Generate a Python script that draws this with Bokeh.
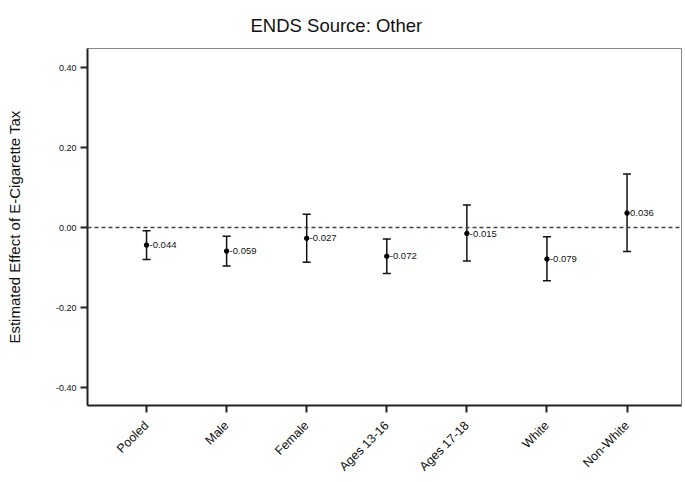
import math
from bokeh.plotting import figure
from bokeh.models import (ColumnDataSource, Whisker, TeeHead, LabelSet, Span,
                          FixedTicker, NumeralTickFormatter, Range1d)
from bokeh.core.properties import value
from bokeh.embed import file_html
from bokeh.resources import INLINE

categories = ["Pooled", "Male", "Female", "Ages 13-16", "Ages 17-18", "White", "Non-White"]
estimates = [-0.044, -0.059, -0.027, -0.072, -0.015, -0.079, 0.036]
lower = [-0.080, -0.096, -0.087, -0.115, -0.084, -0.133, -0.060]
upper = [-0.008, -0.022, 0.033, -0.029, 0.056, -0.023, 0.134]
y_ticks = [-0.4, -0.2, 0.0, 0.2, 0.4]

xs = list(range(len(categories)))
src = ColumnDataSource(dict(
    x=xs, y=estimates, lower=lower, upper=upper,
    label=[f"{v:.3f}" for v in estimates],
))

FONT = "Liberation Sans"

p = figure(width=684, height=481, output_backend="svg", toolbar_location=None,
           x_range=Range1d(-0.737, 6.68), y_range=Range1d(-0.445, 0.4475),
           min_border_left=87, min_border_right=3, min_border_top=47, min_border_bottom=76,
           title="ENDS Source: Other")

p.title.text_font = FONT
p.title.text_font_size = "18.5px"
p.title.text_font_style = "normal"
p.title.align = "left"
p.title.offset = 163
p.title.standoff = 25
p.title.text_color = "#111111"

p.xgrid.visible = False
p.ygrid.visible = False
p.outline_line_color = "#888888"
p.outline_line_width = 1

p.xaxis.ticker = FixedTicker(ticks=xs)
p.xaxis.major_label_overrides = {i: c for i, c in enumerate(categories)}
p.xaxis.major_label_orientation = math.pi / 4
p.yaxis.ticker = FixedTicker(ticks=y_ticks)
p.yaxis.formatter = NumeralTickFormatter(format="0.00")
p.yaxis.axis_label = "Estimated Effect of E-Cigarette Tax"

for ax in (p.xaxis, p.yaxis):
    ax.axis_line_width = 2
    ax.axis_line_color = "#222222"
    ax.major_tick_line_width = 2
    ax.major_tick_line_color = "#222222"
    ax.major_tick_out = 7
    ax.major_tick_in = 0
    ax.minor_tick_line_color = None
    ax.major_label_text_font = FONT
    ax.major_label_text_color = "#111111"

p.xaxis.major_label_text_font_size = "12.5px"
p.yaxis.major_label_text_font_size = "9px"
p.yaxis.major_label_standoff = 4
p.xaxis.major_label_standoff = 11
p.yaxis.axis_label_text_font = FONT
p.yaxis.axis_label_text_font_size = "15px"
p.yaxis.axis_label_text_font_style = "normal"
p.yaxis.axis_label_text_color = "#111111"
p.yaxis.axis_label_standoff = 30

p.add_layout(Span(location=0, dimension="width", line_dash="4 3",
                  line_color="#444444", line_width=1.5))

w = Whisker(base="x", upper="upper", lower="lower", source=src,
            line_width=1.5, line_color="#111111",
            upper_head=TeeHead(size=8, line_width=1.5, line_color="#111111"),
            lower_head=TeeHead(size=8, line_width=1.5, line_color="#111111"))
p.add_layout(w)

p.scatter("x", "y", source=src, size=4.5, marker="circle", color="#000000")

p.add_layout(LabelSet(x="x", y="y", text="label", source=src, x_offset=3,
                      text_baseline="middle", text_font_size="9.5px",
                      text_font=value(FONT), text_color="#111111"))

open("out.html", "w").write(file_html(p, INLINE))
